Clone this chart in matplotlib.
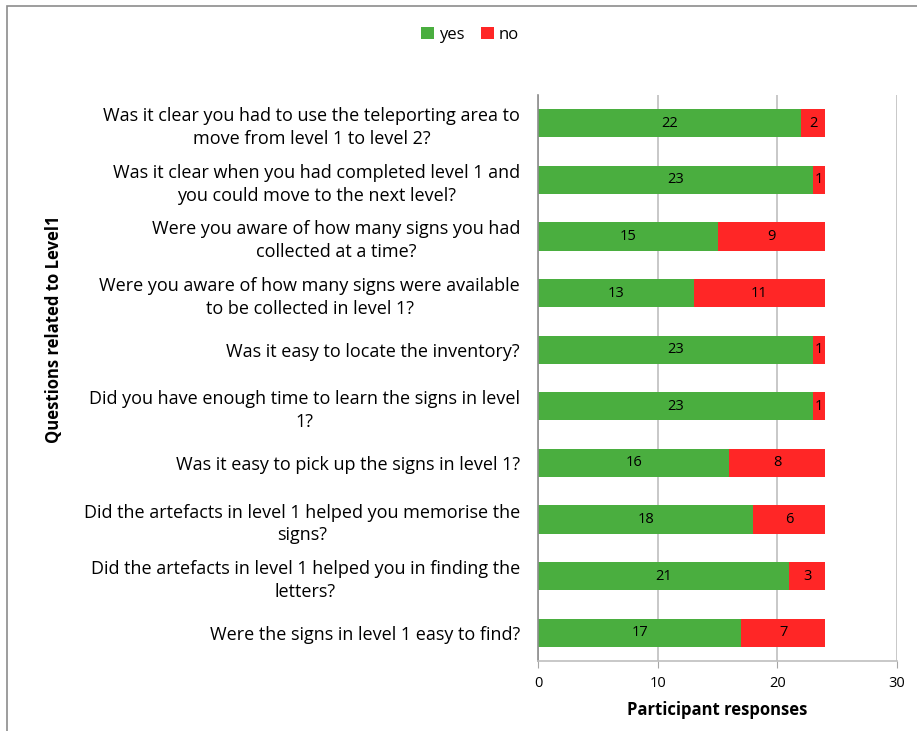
import matplotlib.pyplot as plt
from matplotlib.patches import Rectangle

questions = [
    "Was it clear you had to use the teleporting area to\nmove from level 1 to level 2?",
    "Was it clear when you had completed level 1 and\nyou could move to the next level?",
    "Were you aware of how many signs you had\ncollected at a time?",
    "Were you aware of how many signs were available\nto be collected in level 1?",
    "Was it easy to locate the inventory?",
    "Did you have enough time to learn the signs in level\n1?",
    "Was it easy to pick up the signs in level 1?",
    "Did the artefacts in level 1 helped you memorise the\nsigns?",
    "Did the artefacts in level 1 helped you in finding the\nletters?",
    "Were the signs in level 1 easy to find?",
]
yes = [22, 23, 15, 13, 23, 23, 16, 18, 21, 17]
no = [2, 1, 9, 11, 1, 1, 8, 6, 3, 7]

GREEN = "#4aae3f"
RED = "#ff2626"
FONT = "Open Sans"

plt.rcParams["font.family"] = [FONT, "DejaVu Sans"]

fig = plt.figure(figsize=(9.17, 7.31), dpi=100)
ax = fig.add_axes([538 / 917, 1 - 661 / 731, 359 / 917, 566 / 731])

# chart border like the Excel chart area
fig.patches.append(Rectangle((7 / 917, -0.01), 1.0, 1 - 6 / 731 + 0.01,
                             transform=fig.transFigure, fill=False,
                             edgecolor="#8c8c8c", lw=1.2))

pos = list(range(len(questions)))[::-1]
b1 = ax.barh(pos, yes, height=0.5, color=GREEN, label="yes")
b2 = ax.barh(pos, no, left=yes, height=0.5, color=RED, label="no")
ax.bar_label(b1, label_type="center", fontsize=10.5)
ax.bar_label(b2, label_type="center", fontsize=10.5)

ax.set_xlim(0, 30)
ax.set_ylim(-0.5, len(questions) - 0.5)
ax.set_xticks([0, 10, 20, 30])
ax.set_yticks(pos)
ax.set_yticklabels(questions, fontsize=13, multialignment="center",
                   linespacing=1.35)
ax.tick_params(axis="y", length=0, pad=13)
ax.tick_params(axis="x", length=5, color="#a6a6a6", labelsize=10.5, pad=6)
ax.xaxis.grid(True, color="#bfbfbf", lw=1.2)
ax.set_axisbelow(True)
for s in ("top", "right"):
    ax.spines[s].set_visible(False)
ax.spines["left"].set_color("#8c8c8c")
ax.spines["left"].set_linewidth(1.2)
ax.spines["bottom"].set_color("#bfbfbf")
ax.spines["bottom"].set_linewidth(1.2)

ax.set_xlabel("Participant responses", fontsize=12, fontweight="bold", labelpad=7)
fig.text(54 / 917, 1 - 329 / 731, "Questions related to Level1", rotation=90,
         fontsize=12, fontweight="bold", ha="center", va="center")

fig.legend(handles=[b1, b2], labels=["yes", "no"], loc="center",
           bbox_to_anchor=(470 / 917, 1 - 35 / 731), ncol=2, frameon=False,
           fontsize=12, handlelength=0.75, handleheight=0.75,
           handletextpad=0.3, columnspacing=1.0)

fig.savefig("out.png", dpi=100)
